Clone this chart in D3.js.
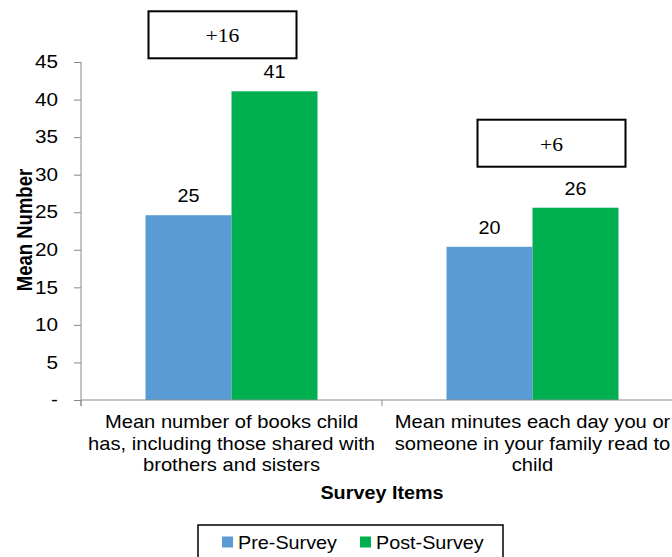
<!DOCTYPE html>
<html>
<head>
<meta charset="utf-8">
<script src="https://cdn.jsdelivr.net/npm/d3@7"></script>
<style>
  html, body { margin: 0; padding: 0; background: #fff; }
  svg { display: block; }
  text { font-family: Arial, "Liberation Sans", sans-serif; fill: #000; }
</style>
</head>
<body>
<svg id="chart" width="672" height="557"></svg>
<script>
// ---- data ----
const categories = [
  ["Mean number of books child", "has, including those shared with", "brothers and sisters"],
  ["Mean minutes each day you or", "someone in your family read to", "child"]
];
const categoryKeys = ["books", "minutes"];
const series = ["Pre-Survey", "Post-Survey"];
const preValues = [24.6, 20.4];
const postValues = [41.1, 25.6];
const yTicks = [0, 5, 10, 15, 20, 25, 30, 35, 40, 45];
const seriesColors = ["#5b9bd5", "#00b050"];

// ---- layout ----
const SX = 1.1; // horizontal text stretch of the original
const svg = d3.select("#chart");
const plot = { left: 81, right: 683, top: 62, bottom: 400 };
const axisColor = "#898989";

const x = d3.scaleBand().domain(categoryKeys).range([plot.left, plot.right]).paddingInner(0).paddingOuter(0);
const xSub = d3.scaleBand().domain(series).range([0, x.bandwidth()]).paddingInner(0).paddingOuter(0.75);
const y = d3.scaleLinear().domain([0, 45]).range([plot.bottom, plot.top]);

const rows = categoryKeys.map((k, i) => ({ key: k, values: [preValues[i], postValues[i]] }));

// bars
const groups = svg.selectAll("g.cat").data(rows).join("g")
  .attr("class", "cat")
  .attr("transform", d => `translate(${x(d.key)},0)`);
groups.selectAll("rect").data(d => d.values.map((v, j) => ({ s: series[j], v, j }))).join("rect")
  .attr("x", d => xSub(d.s))
  .attr("y", d => y(d.v))
  .attr("width", xSub.bandwidth())
  .attr("height", d => y(0) - y(d.v))
  .attr("fill", d => seriesColors[d.j]);

// data labels
groups.selectAll("text.val").data(d => d.values.map((v, j) => ({ s: series[j], v, j }))).join("text")
  .attr("class", "val")
  .attr("text-anchor", "middle")
  .attr("font-size", 18)
  .attr("transform", d => `translate(${xSub(d.s) + xSub.bandwidth() / 2},${y(d.v) - 13}) scale(${SX},1)`)
  .text(d => Math.round(d.v));

// y axis
const yAxis = d3.axisLeft(y).tickValues(yTicks).tickSize(7).tickPadding(16)
  .tickFormat(d => d === 0 ? "-" : d);
const ya = svg.append("g").attr("transform", `translate(${plot.left},0)`).call(yAxis);
ya.select(".domain").attr("stroke", axisColor).attr("d", `M0,${plot.top}V${plot.bottom + 6}`);
ya.selectAll(".tick line").attr("stroke", axisColor);
ya.selectAll(".tick text").attr("font-size", 18).attr("fill", "#000")
  .style("font-family", "Arial, 'Liberation Sans', sans-serif")
  .attr("x", 0)
  .attr("transform", "translate(-23,0) scale(1.15,1)");

// x axis
const xa = svg.append("g").attr("transform", `translate(0,${plot.bottom})`);
xa.append("line").attr("x1", plot.left).attr("x2", 672).attr("y1", 0).attr("y2", 0).attr("stroke", axisColor);
xa.selectAll("line.tk").data(categoryKeys.concat(["end"])).join("line")
  .attr("class", "tk")
  .attr("x1", (d, i) => plot.left + i * x.step())
  .attr("x2", (d, i) => plot.left + i * x.step())
  .attr("y1", 0).attr("y2", 6).attr("stroke", axisColor);

// category labels
categoryKeys.forEach((k, i) => {
  const cx = x(k) + x.bandwidth() / 2;
  categories[i].forEach((line, li) => {
    svg.append("text")
      .attr("text-anchor", "middle")
      .attr("font-size", 18)
      .attr("transform", `translate(${cx},${428 + li * 21.5}) scale(1.12,1)`)
      .text(line);
  });
});

// axis titles
svg.append("text")
  .attr("text-anchor", "middle")
  .attr("font-size", 18).attr("font-weight", "bold")
  .attr("transform", `translate(${(plot.left + plot.right) / 2},499) scale(${SX},1)`)
  .text("Survey Items");
svg.append("text")
  .attr("text-anchor", "middle")
  .attr("font-size", 18.5).attr("font-weight", "bold")
  .attr("transform", "translate(31.5,230) rotate(-90) scale(1,1.2)")
  .text("Mean Number");

// change annotation boxes
const annLayout = [{ dx: -52, gap: 33 }, { dx: -24, gap: 41 }];
rows.forEach((r, i) => {
  const diff = Math.round(r.values[1]) - Math.round(r.values[0]);
  const cx = x(r.key) + xSub("Post-Survey") + xSub.bandwidth() / 2 + annLayout[i].dx;
  const bottom = y(r.values[1]) - annLayout[i].gap;
  const w = 148, h = 47;
  svg.append("rect")
    .attr("x", cx - w / 2).attr("y", bottom - h)
    .attr("width", w).attr("height", h)
    .attr("fill", "#fff").attr("stroke", "#000").attr("stroke-width", 2);
  svg.append("text")
    .attr("text-anchor", "middle")
    .attr("font-size", 18)
    .style("font-family", "'Times New Roman', 'Liberation Serif', serif")
    .attr("transform", `translate(${cx},${bottom - h + 31}) scale(1.2,1)`)
    .text((diff >= 0 ? "+" : "") + diff);
});

// legend
const lg = svg.append("g");
lg.append("rect").attr("x", 198).attr("y", 525).attr("width", 305).attr("height", 45)
  .attr("fill", "#fff").attr("stroke", "#000").attr("stroke-width", 1.5);
let lx = 222;
series.forEach((s, j) => {
  lg.append("rect").attr("x", lx).attr("y", 536.5).attr("width", 11).attr("height", 11).attr("fill", seriesColors[j]);
  const t = lg.append("text").attr("font-size", 18)
    .attr("transform", `translate(${lx + 16},548.5) scale(${SX},1)`)
    .text(s);
  lx += 16 + t.node().getComputedTextLength() * SX + 23;
});
</script>
</body>
</html>
